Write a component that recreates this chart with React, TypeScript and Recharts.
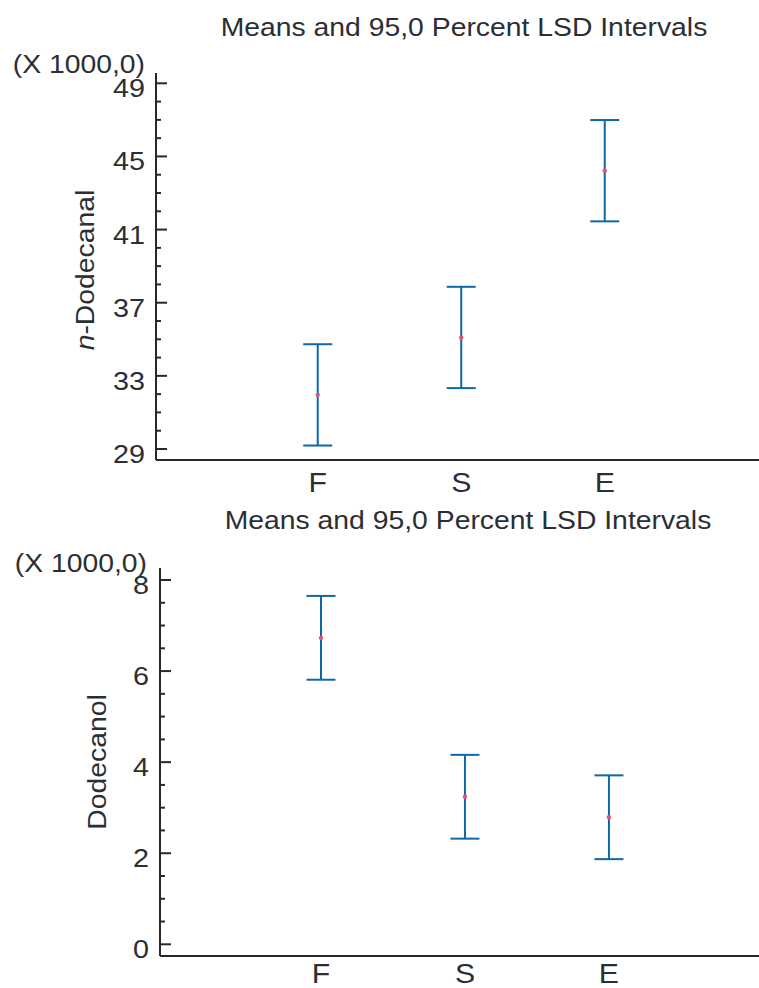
import React from 'react'
import { ComposedChart, Scatter, ErrorBar, XAxis, YAxis, Customized } from 'recharts'

// groups on the x axis
const categories = ['F', 'S', 'E']

// n-Dodecanal (x 1000): group means and LSD half-widths
const dodecanalMeans = [31.96, 35.1, 44.22]
const dodecanalLsd = [2.77, 2.77, 2.77]

// Dodecanol (x 1000)
const dodecanolMeans = [6.73, 3.24, 2.79]
const dodecanolLsd = [0.92, 0.92, 0.92]

const dodecanalTicks = [29, 33, 37, 41, 45, 49]
const dodecanalMinorStep = 1
const dodecanolTicks = [0, 2, 4, 6, 8]
const dodecanolMinorStep = 0.5

const chartTitle = 'Means and 95,0 Percent LSD Intervals'
const scaleNote = '(X 1000,0)'

const AXIS = '#262a2f'
const TEXT = '#2b2f33'
const BAR = '#0d68a8'
const DOT = '#e5507c'
const FONT = '"Liberation Sans", Arial, sans-serif'

const toRows = (means: number[], lsd: number[]) =>
  categories.map((c, i) => ({ x: i, name: c, mean: means[i], err: lsd[i] }))

const withMinor = (majors: number[], step: number) => {
  const lo = Math.min(...majors)
  const hi = Math.max(...majors)
  const out: number[] = []
  for (let v = lo; v <= hi + 1e-9; v += step) out.push(Math.round(v * 100) / 100)
  return out
}

// slightly widened text, the reference glyphs are wider than Arial's
function SText({ x, y, size, sx = 1.1, anchor = 'middle', rotate = 0, children }: any) {
  return (
    <text
      transform={`translate(${x},${y}) rotate(${rotate}) scale(${sx},1)`}
      textAnchor={anchor}
      fontSize={size}
      fontFamily={FONT}
      fill={TEXT}
    >
      {children}
    </text>
  )
}

const leftTick = (majors: number[]) => (props: any) => {
  const { x, y, payload } = props
  const major = majors.includes(payload.value)
  return (
    <g>
      <line x1={x} x2={x + (major ? 11 : 5)} y1={y} y2={y} stroke={AXIS} strokeWidth={2} />
      {major && (
        <SText x={x - 11} y={y + 14} size={25} sx={1.15} anchor="end">
          {payload.value}
        </SText>
      )}
    </g>
  )
}

const rightTick = (props: any) => {
  const { x, y } = props
  return <line x1={x - 4} x2={x} y1={y} y2={y} stroke={AXIS} strokeWidth={2} />
}

const catTick = (offset: number) => (props: any) => {
  const { x, y, payload } = props
  return (
    <SText x={x} y={y + offset} size={28} sx={1.08}>
      {categories[payload.value]}
    </SText>
  )
}

function MeansPanel({
  means,
  lsd,
  majors,
  minorStep,
  yDomain,
  xDomain,
  height,
  marginTop,
  axisWidth,
  xAxisHeight,
  labelOffset,
  texts,
}: any) {
  const rows = toRows(means, lsd)
  return (
    <ComposedChart
      width={763}
      height={height}
      data={rows}
      margin={{ top: marginTop, right: 2, bottom: 0, left: 0 }}
    >
      <XAxis
        dataKey="x"
        type="number"
        domain={xDomain}
        ticks={[0, 1, 2]}
        interval={0}
        allowDataOverflow
        height={xAxisHeight}
        tickSize={0}
        tickMargin={0}
        tickLine={false}
        axisLine={{ stroke: AXIS, strokeWidth: 2 }}
        tick={catTick(labelOffset)}
      />
      <XAxis
        xAxisId="top"
        orientation="top"
        type="number"
        domain={xDomain}
        allowDataOverflow
        height={0}
        tick={false}
        tickLine={false}
        axisLine={{ stroke: AXIS, strokeWidth: 2 }}
      />
      <YAxis
        dataKey="mean"
        type="number"
        domain={yDomain}
        allowDataOverflow
        ticks={withMinor(majors, minorStep)}
        interval={0}
        width={axisWidth}
        tickSize={0}
        tickMargin={0}
        tickLine={false}
        axisLine={{ stroke: AXIS, strokeWidth: 2 }}
        tick={leftTick(majors)}
      />
      <YAxis
        yAxisId="right"
        orientation="right"
        type="number"
        domain={yDomain}
        allowDataOverflow
        ticks={majors}
        interval={0}
        width={0}
        tickSize={0}
        tickMargin={0}
        tickLine={false}
        axisLine={false}
        tick={rightTick}
      />
      <Scatter
        dataKey="mean"
        isAnimationActive={false}
        shape={(p: any) => <circle cx={p.cx} cy={p.cy} r={2.2} fill={DOT} />}
      >
        <ErrorBar
          dataKey="err"
          direction="y"
          width={14.5}
          stroke={BAR}
          strokeWidth={2}
          isAnimationActive={false}
        />
      </Scatter>
      <Customized component={() => texts} />
    </ComposedChart>
  )
}

export default function App() {
  return (
    <div
      style={{
        position: 'absolute',
        left: 0,
        top: 0,
        width: 759,
        height: 988,
        overflow: 'hidden',
        background: '#fff',
      }}
    >
      <div style={{ position: 'absolute', left: 0, top: 0 }}>
        <MeansPanel
          means={dodecanalMeans}
          lsd={dodecanalLsd}
          majors={dodecanalTicks}
          minorStep={dodecanalMinorStep}
          yDomain={[28.398, 49.563]}
          xDomain={[-1.127, 3.089]}
          height={500}
          marginTop={73}
          axisWidth={156}
          xAxisHeight={40}
          labelOffset={32}
          texts={
            <g>
              <SText x={464} y={36} size={26} sx={1.09}>
                {chartTitle}
              </SText>
              <SText x={145} y={73} size={26} sx={1.09} anchor="end">
                {scaleNote}
              </SText>
              <SText x={94} y={270} size={26} sx={1.09} rotate={-90}>
                <tspan fontStyle="italic">n</tspan>-Dodecanal
              </SText>
            </g>
          }
        />
      </div>
      <div style={{ position: 'absolute', left: 0, top: 500 }}>
        <MeansPanel
          means={dodecanolMeans}
          lsd={dodecanolLsd}
          majors={dodecanolTicks}
          minorStep={dodecanolMinorStep}
          yDomain={[-0.257, 8.2635]}
          xDomain={[-1.118, 3.056]}
          height={488}
          marginTop={68}
          axisWidth={160}
          xAxisHeight={32}
          labelOffset={27}
          texts={
            <g>
              <SText x={468} y={29} size={26} sx={1.09}>
                {chartTitle}
              </SText>
              <SText x={147} y={72} size={26} sx={1.09} anchor="end">
                {scaleNote}
              </SText>
              <SText x={106} y={262} size={26} sx={1.09} rotate={-90}>
                Dodecanol
              </SText>
            </g>
          }
        />
      </div>
    </div>
  )
}
